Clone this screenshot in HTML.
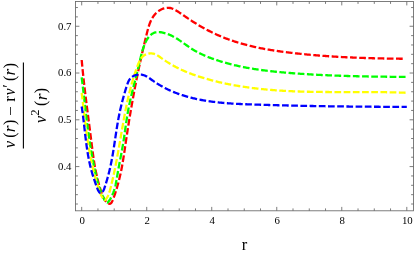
<!DOCTYPE html>
<html><head><meta charset="utf-8"><title>plot</title>
<style>html,body{margin:0;padding:0;background:#fff}body{width:415px;height:254px;overflow:hidden;font-family:"Liberation Serif",serif}svg{display:block;will-change:transform}.sf,.sf text{font-family:"Liberation Serif",serif}</style>
</head><body><svg width="415" height="254" viewBox="0 0 415 254"><rect x="75.5" y="1.5" width="338.0" height="209.3" fill="none" stroke="#666" stroke-width="0.85"/>
<path d="M81.70 210.8 V206.90 M81.70 1.5 V5.40 M97.95 210.8 V208.40 M97.95 1.5 V3.90 M114.21 210.8 V208.40 M114.21 1.5 V3.90 M130.47 210.8 V208.40 M130.47 1.5 V3.90 M146.72 210.8 V206.90 M146.72 1.5 V5.40 M162.97 210.8 V208.40 M162.97 1.5 V3.90 M179.23 210.8 V208.40 M179.23 1.5 V3.90 M195.49 210.8 V208.40 M195.49 1.5 V3.90 M211.74 210.8 V206.90 M211.74 1.5 V5.40 M228.00 210.8 V208.40 M228.00 1.5 V3.90 M244.25 210.8 V208.40 M244.25 1.5 V3.90 M260.50 210.8 V208.40 M260.50 1.5 V3.90 M276.76 210.8 V206.90 M276.76 1.5 V5.40 M293.01 210.8 V208.40 M293.01 1.5 V3.90 M309.27 210.8 V208.40 M309.27 1.5 V3.90 M325.52 210.8 V208.40 M325.52 1.5 V3.90 M341.78 210.8 V206.90 M341.78 1.5 V5.40 M358.03 210.8 V208.40 M358.03 1.5 V3.90 M374.29 210.8 V208.40 M374.29 1.5 V3.90 M390.54 210.8 V208.40 M390.54 1.5 V3.90 M406.80 210.8 V206.90 M406.80 1.5 V5.40 M75.5 204.01 H77.90 M413.5 204.01 H411.10 M75.5 194.66 H77.90 M413.5 194.66 H411.10 M75.5 185.30 H77.90 M413.5 185.30 H411.10 M75.5 175.95 H77.90 M413.5 175.95 H411.10 M75.5 166.59 H79.40 M413.5 166.59 H409.60 M75.5 157.23 H77.90 M413.5 157.23 H411.10 M75.5 147.88 H77.90 M413.5 147.88 H411.10 M75.5 138.52 H77.90 M413.5 138.52 H411.10 M75.5 129.17 H77.90 M413.5 129.17 H411.10 M75.5 119.81 H79.40 M413.5 119.81 H409.60 M75.5 110.45 H77.90 M413.5 110.45 H411.10 M75.5 101.10 H77.90 M413.5 101.10 H411.10 M75.5 91.74 H77.90 M413.5 91.74 H411.10 M75.5 82.39 H77.90 M413.5 82.39 H411.10 M75.5 73.03 H79.40 M413.5 73.03 H409.60 M75.5 63.67 H77.90 M413.5 63.67 H411.10 M75.5 54.32 H77.90 M413.5 54.32 H411.10 M75.5 44.96 H77.90 M413.5 44.96 H411.10 M75.5 35.61 H77.90 M413.5 35.61 H411.10 M75.5 26.25 H79.40 M413.5 26.25 H409.60 M75.5 16.89 H77.90 M413.5 16.89 H411.10 M75.5 7.54 H77.90 M413.5 7.54 H411.10" stroke="#666" stroke-width="0.85" fill="none"/>
<path d="M81.70 60.00 L81.79 61.02 L81.88 62.03 L81.98 63.04 L82.07 64.06 L82.17 65.07 L82.26 66.09 L82.36 67.10 L82.46 68.11 L82.56 69.13 L82.66 70.14 L82.76 71.15 L82.87 72.16 L82.97 73.17 L83.08 74.19 L83.18 75.20 L83.29 76.21 L83.40 77.22 L83.51 78.23 L83.62 79.24 L83.73 80.25 L83.84 81.26 L83.95 82.27 L84.07 83.28 L84.18 84.29 L84.29 85.30 L84.41 86.31 L84.53 87.31 L84.64 88.32 L84.76 89.33 L84.88 90.34 L85.00 91.35 L85.12 92.35 L85.24 93.36 L85.36 94.37 L85.48 95.37 L85.60 96.38 L85.73 97.39 L85.85 98.39 L85.97 99.40 L86.10 100.41 L86.22 101.41 L86.35 102.42 L86.47 103.42 L86.60 104.43 L86.73 105.43 L86.85 106.44 L86.98 107.44 L87.11 108.45 L87.23 109.45 L87.36 110.46 L87.49 111.46 L87.62 112.47 L87.75 113.47 L87.88 114.47 L88.01 115.48 L88.13 116.48 L88.26 117.48 L88.39 118.49 L88.52 119.49 L88.65 120.49 L88.78 121.50 L88.91 122.50 L89.04 123.50 L89.17 124.51 L89.30 125.51 L89.43 126.51 L89.56 127.51 L89.69 128.52 L89.82 129.52 L89.95 130.52 L90.08 131.52 L90.21 132.53 L90.34 133.53 L90.47 134.53 L90.60 135.53 L90.73 136.53 L90.85 137.54 L90.98 138.54 L91.11 139.54 L91.24 140.54 L91.36 141.54 L91.49 142.55 L91.62 143.55 L91.74 144.55 L91.87 145.55 L92.00 146.55 L92.13 147.55 L92.25 148.56 L92.38 149.56 L92.51 150.56 L92.64 151.56 L92.78 152.56 L92.91 153.56 L93.05 154.56 L93.19 155.57 L93.33 156.57 L93.47 157.57 L93.62 158.57 L93.77 159.57 L93.92 160.57 L94.08 161.58 L94.23 162.58 L94.40 163.58 L94.56 164.58 L94.73 165.58 L94.91 166.59 L95.09 167.59 L95.27 168.59 L95.46 169.59 L95.65 170.59 L95.85 171.60 L96.05 172.60 L96.26 173.60 L96.48 174.60 L96.70 175.61 L96.92 176.61 L97.16 177.61 L97.40 178.62 L97.64 179.62 L97.90 180.62 L98.16 181.63 L98.43 182.63 L98.70 183.64 L98.98 184.64 L99.27 185.65 L99.57 186.66 L99.88 187.67 L100.19 188.68 L100.52 189.69 L100.85 190.70 L101.19 191.72 L101.54 192.74 L101.90 193.76 L102.28 194.78 L102.68 195.78 L103.10 196.77 L103.56 197.73 L104.05 198.66 L104.58 199.56 L105.15 200.41 L105.78 201.22 L106.46 201.96 L107.20 202.62 L108.01 203.18 L108.86 203.59 L109.67 203.74 L110.39 203.57 L111.01 203.14 L111.55 202.49 L112.03 201.68 L112.47 200.77 L112.88 199.78 L113.27 198.78 L113.66 197.75 L114.04 196.71 L114.41 195.67 L114.77 194.62 L115.12 193.56 L115.46 192.51 L115.80 191.46 L116.13 190.41 L116.44 189.36 L116.76 188.33 L117.06 187.30 L117.35 186.28 L117.64 185.27 L117.92 184.26 L118.20 183.26 L118.47 182.26 L118.73 181.27 L118.98 180.28 L119.23 179.29 L119.47 178.31 L119.71 177.32 L119.94 176.34 L120.17 175.36 L120.39 174.38 L120.60 173.39 L120.81 172.41 L121.02 171.43 L121.22 170.44 L121.42 169.45 L121.61 168.47 L121.80 167.48 L121.98 166.49 L122.16 165.50 L122.34 164.51 L122.52 163.52 L122.69 162.53 L122.86 161.54 L123.02 160.55 L123.18 159.55 L123.34 158.56 L123.50 157.56 L123.66 156.57 L123.81 155.57 L123.97 154.57 L124.12 153.58 L124.27 152.58 L124.42 151.58 L124.56 150.58 L124.71 149.58 L124.86 148.58 L125.00 147.58 L125.15 146.58 L125.29 145.57 L125.44 144.57 L125.59 143.57 L125.73 142.56 L125.88 141.56 L126.03 140.56 L126.18 139.55 L126.33 138.55 L126.48 137.54 L126.63 136.53 L126.78 135.53 L126.93 134.52 L127.09 133.52 L127.24 132.51 L127.40 131.50 L127.55 130.50 L127.71 129.49 L127.87 128.48 L128.02 127.47 L128.18 126.47 L128.34 125.46 L128.50 124.45 L128.67 123.44 L128.83 122.44 L128.99 121.43 L129.15 120.42 L129.32 119.41 L129.48 118.41 L129.65 117.40 L129.82 116.39 L129.98 115.39 L130.15 114.38 L130.32 113.37 L130.49 112.37 L130.66 111.36 L130.83 110.36 L131.01 109.35 L131.18 108.35 L131.35 107.34 L131.53 106.34 L131.70 105.34 L131.88 104.33 L132.06 103.33 L132.23 102.33 L132.41 101.33 L132.59 100.33 L132.77 99.33 L132.95 98.33 L133.13 97.33 L133.32 96.33 L133.50 95.34 L133.68 94.34 L133.87 93.34 L134.06 92.35 L134.24 91.35 L134.43 90.36 L134.62 89.37 L134.81 88.37 L135.00 87.38 L135.19 86.39 L135.38 85.40 L135.57 84.41 L135.76 83.42 L135.96 82.43 L136.15 81.44 L136.35 80.45 L136.55 79.46 L136.74 78.48 L136.94 77.49 L137.14 76.50 L137.34 75.51 L137.55 74.53 L137.75 73.54 L137.95 72.55 L138.16 71.56 L138.36 70.58 L138.57 69.59 L138.78 68.60 L138.98 67.62 L139.19 66.63 L139.41 65.64 L139.62 64.66 L139.83 63.67 L140.04 62.68 L140.26 61.69 L140.48 60.71 L140.69 59.72 L140.91 58.73 L141.13 57.74 L141.35 56.75 L141.57 55.76 L141.80 54.77 L142.02 53.78 L142.25 52.79 L142.47 51.80 L142.70 50.81 L142.93 49.81 L143.16 48.82 L143.39 47.82 L143.62 46.83 L143.86 45.83 L144.09 44.84 L144.33 43.84 L144.57 42.84 L144.80 41.84 L145.04 40.85 L145.29 39.84 L145.53 38.84 L145.77 37.84 L146.02 36.84 L146.27 35.83 L146.51 34.83 L146.76 33.82 L147.01 32.81 L147.27 31.81 L147.53 30.80 L147.79 29.80 L148.06 28.80 L148.34 27.80 L148.64 26.82 L148.94 25.84 L149.26 24.87 L149.60 23.91 L149.95 22.96 L150.33 22.03 L150.72 21.11 L151.14 20.20 L151.58 19.32 L152.05 18.45 L152.54 17.60 L153.07 16.77 L153.62 15.97 L154.21 15.19 L154.83 14.44 L155.49 13.71 L156.19 13.01 L156.92 12.34 L157.70 11.70 L158.52 11.09 L159.38 10.52 L160.28 9.98 L161.21 9.49 L162.17 9.05 L163.15 8.67 L164.14 8.34 L165.14 8.09 L166.14 7.91 L167.14 7.80 L168.13 7.78 L169.11 7.85 L170.07 7.99 L171.02 8.21 L171.95 8.50 L172.88 8.84 L173.79 9.24 L174.70 9.69 L175.59 10.17 L176.48 10.69 L177.36 11.23 L178.23 11.79 L179.09 12.37 L179.95 12.95 L180.80 13.52 L181.65 14.10 L182.50 14.68 L183.34 15.25 L184.17 15.82 L185.01 16.39 L185.84 16.96 L186.68 17.52 L187.51 18.09 L188.35 18.65 L189.18 19.21 L190.02 19.76 L190.86 20.32 L191.71 20.87 L192.56 21.41 L193.41 21.96 L194.27 22.50 L195.13 23.04 L196.00 23.57 L196.87 24.10 L197.75 24.63 L198.62 25.15 L199.51 25.67 L200.39 26.19 L201.29 26.70 L202.18 27.21 L203.08 27.71 L203.98 28.21 L204.88 28.71 L205.79 29.20 L206.70 29.68 L207.61 30.16 L208.53 30.64 L209.44 31.11 L210.36 31.57 L211.29 32.03 L212.21 32.49 L213.14 32.93 L214.07 33.38 L215.00 33.81 L215.93 34.24 L216.86 34.67 L217.80 35.09 L218.74 35.50 L219.68 35.90 L220.62 36.30 L221.56 36.70 L222.50 37.08 L223.44 37.46 L224.39 37.84 L225.34 38.21 L226.28 38.57 L227.23 38.93 L228.18 39.28 L229.13 39.62 L230.09 39.96 L231.04 40.30 L232.00 40.63 L232.95 40.95 L233.91 41.27 L234.87 41.58 L235.83 41.89 L236.79 42.19 L237.75 42.49 L238.72 42.78 L239.68 43.07 L240.65 43.35 L241.61 43.63 L242.58 43.90 L243.55 44.17 L244.52 44.43 L245.49 44.69 L246.46 44.95 L247.44 45.20 L248.41 45.44 L249.39 45.68 L250.36 45.92 L251.34 46.15 L252.32 46.38 L253.30 46.61 L254.28 46.83 L255.26 47.04 L256.24 47.26 L257.22 47.47 L258.21 47.67 L259.19 47.87 L260.18 48.07 L261.16 48.27 L262.15 48.46 L263.14 48.65 L264.13 48.83 L265.12 49.01 L266.11 49.19 L267.10 49.37 L268.09 49.54 L269.09 49.71 L270.08 49.87 L271.07 50.04 L272.07 50.20 L273.07 50.35 L274.06 50.51 L275.06 50.66 L276.06 50.81 L277.06 50.96 L278.06 51.10 L279.06 51.25 L280.06 51.39 L281.06 51.53 L282.07 51.66 L283.07 51.80 L284.07 51.93 L285.08 52.06 L286.08 52.19 L287.09 52.31 L288.09 52.44 L289.10 52.56 L290.11 52.68 L291.12 52.80 L292.12 52.92 L293.13 53.04 L294.14 53.15 L295.15 53.27 L296.16 53.38 L297.17 53.49 L298.19 53.60 L299.20 53.71 L300.21 53.81 L301.22 53.92 L302.24 54.02 L303.25 54.12 L304.26 54.22 L305.28 54.32 L306.29 54.42 L307.31 54.52 L308.32 54.61 L309.34 54.71 L310.36 54.80 L311.37 54.89 L312.39 54.98 L313.41 55.07 L314.42 55.15 L315.44 55.24 L316.46 55.32 L317.48 55.40 L318.50 55.49 L319.51 55.57 L320.53 55.65 L321.55 55.72 L322.57 55.80 L323.59 55.87 L324.61 55.95 L325.63 56.02 L326.65 56.09 L327.67 56.16 L328.69 56.23 L329.71 56.30 L330.73 56.37 L331.75 56.43 L332.78 56.50 L333.80 56.56 L334.82 56.62 L335.84 56.68 L336.86 56.74 L337.88 56.80 L338.90 56.86 L339.92 56.92 L340.94 56.97 L341.97 57.03 L342.99 57.08 L344.01 57.13 L345.03 57.19 L346.05 57.24 L347.07 57.29 L348.09 57.34 L349.11 57.38 L350.13 57.43 L351.15 57.47 L352.17 57.52 L353.20 57.56 L354.22 57.61 L355.24 57.65 L356.26 57.69 L357.28 57.73 L358.29 57.77 L359.31 57.81 L360.33 57.84 L361.35 57.88 L362.37 57.92 L363.39 57.95 L364.41 57.99 L365.43 58.02 L366.44 58.05 L367.46 58.08 L368.48 58.11 L369.49 58.14 L370.51 58.17 L371.53 58.20 L372.54 58.23 L373.56 58.26 L374.57 58.28 L375.59 58.31 L376.60 58.33 L377.62 58.36 L378.63 58.38 L379.64 58.40 L380.66 58.43 L381.67 58.45 L382.68 58.47 L383.69 58.49 L384.70 58.51 L385.71 58.53 L386.72 58.54 L387.73 58.56 L388.74 58.58 L389.75 58.60 L390.76 58.61 L391.76 58.63 L392.77 58.64 L393.78 58.66 L394.78 58.67 L395.79 58.68 L396.79 58.70 L397.80 58.71 L398.80 58.72 L399.80 58.73 L400.80 58.74 L401.80 58.75 L402.80 58.76 L403.80 58.77" stroke="#ff0000" stroke-width="2.3" fill="none" stroke-dasharray="6.7 2.5"/>
<path d="M81.70 77.40 L81.81 78.33 L81.93 79.26 L82.04 80.19 L82.15 81.12 L82.27 82.05 L82.38 82.99 L82.49 83.92 L82.60 84.86 L82.71 85.79 L82.82 86.73 L82.93 87.66 L83.04 88.60 L83.15 89.54 L83.26 90.48 L83.37 91.42 L83.48 92.36 L83.58 93.30 L83.69 94.24 L83.80 95.18 L83.91 96.12 L84.02 97.06 L84.13 98.01 L84.24 98.95 L84.34 99.89 L84.45 100.84 L84.56 101.78 L84.67 102.73 L84.78 103.67 L84.89 104.62 L85.00 105.56 L85.11 106.51 L85.22 107.46 L85.33 108.40 L85.44 109.35 L85.55 110.30 L85.67 111.24 L85.78 112.19 L85.89 113.14 L86.01 114.09 L86.12 115.03 L86.23 115.98 L86.35 116.93 L86.47 117.88 L86.58 118.82 L86.70 119.77 L86.82 120.72 L86.94 121.66 L87.05 122.61 L87.18 123.56 L87.30 124.51 L87.42 125.45 L87.54 126.40 L87.66 127.35 L87.79 128.29 L87.92 129.24 L88.04 130.18 L88.17 131.13 L88.30 132.08 L88.43 133.02 L88.56 133.96 L88.69 134.91 L88.82 135.85 L88.96 136.80 L89.10 137.74 L89.23 138.68 L89.37 139.62 L89.51 140.56 L89.65 141.51 L89.79 142.45 L89.94 143.39 L90.08 144.33 L90.23 145.26 L90.38 146.20 L90.53 147.14 L90.68 148.08 L90.83 149.01 L90.99 149.95 L91.14 150.88 L91.30 151.82 L91.46 152.75 L91.62 153.68 L91.78 154.61 L91.95 155.54 L92.12 156.47 L92.28 157.40 L92.45 158.33 L92.63 159.26 L92.80 160.19 L92.98 161.11 L93.16 162.04 L93.34 162.96 L93.52 163.88 L93.70 164.80 L93.89 165.72 L94.08 166.64 L94.27 167.56 L94.46 168.48 L94.66 169.39 L94.85 170.31 L95.05 171.22 L95.25 172.14 L95.46 173.05 L95.67 173.96 L95.87 174.87 L96.09 175.78 L96.30 176.68 L96.52 177.59 L96.74 178.49 L96.96 179.40 L97.19 180.31 L97.43 181.21 L97.68 182.12 L97.93 183.02 L98.19 183.93 L98.46 184.84 L98.74 185.75 L99.03 186.67 L99.33 187.59 L99.65 188.51 L99.98 189.43 L100.32 190.37 L100.68 191.31 L101.05 192.25 L101.44 193.21 L101.85 194.17 L102.27 195.15 L102.72 196.14 L103.18 197.13 L103.67 198.14 L104.17 199.16 L104.70 200.17 L105.25 201.10 L105.83 201.86 L106.42 202.37 L107.04 202.56 L107.67 202.36 L108.29 201.80 L108.89 201.05 L109.46 200.24 L110.00 199.40 L110.51 198.55 L111.00 197.69 L111.46 196.81 L111.89 195.93 L112.30 195.05 L112.68 194.16 L113.05 193.27 L113.39 192.38 L113.71 191.48 L114.02 190.58 L114.30 189.67 L114.57 188.76 L114.83 187.84 L115.07 186.92 L115.30 186.00 L115.51 185.07 L115.72 184.14 L115.91 183.20 L116.10 182.26 L116.28 181.32 L116.45 180.37 L116.62 179.42 L116.79 178.47 L116.95 177.52 L117.11 176.57 L117.27 175.62 L117.43 174.67 L117.59 173.71 L117.76 172.76 L117.92 171.81 L118.09 170.86 L118.26 169.91 L118.43 168.96 L118.61 168.01 L118.78 167.06 L118.96 166.11 L119.14 165.16 L119.32 164.21 L119.49 163.27 L119.67 162.32 L119.85 161.37 L120.03 160.43 L120.21 159.48 L120.39 158.54 L120.57 157.59 L120.75 156.65 L120.93 155.70 L121.11 154.76 L121.29 153.82 L121.46 152.87 L121.64 151.93 L121.81 150.99 L121.98 150.05 L122.15 149.11 L122.32 148.17 L122.49 147.23 L122.66 146.29 L122.82 145.35 L122.98 144.41 L123.14 143.47 L123.29 142.53 L123.44 141.59 L123.59 140.66 L123.74 139.72 L123.88 138.78 L124.02 137.85 L124.16 136.91 L124.30 135.98 L124.43 135.04 L124.57 134.11 L124.70 133.17 L124.83 132.24 L124.96 131.31 L125.09 130.37 L125.22 129.44 L125.35 128.51 L125.48 127.58 L125.61 126.65 L125.74 125.72 L125.87 124.79 L126.00 123.86 L126.14 122.93 L126.27 122.00 L126.41 121.07 L126.55 120.15 L126.69 119.22 L126.83 118.29 L126.97 117.37 L127.12 116.44 L127.27 115.52 L127.42 114.59 L127.58 113.67 L127.74 112.75 L127.90 111.82 L128.07 110.90 L128.24 109.98 L128.41 109.06 L128.59 108.14 L128.77 107.21 L128.96 106.29 L129.15 105.37 L129.34 104.45 L129.53 103.54 L129.73 102.62 L129.93 101.70 L130.13 100.78 L130.34 99.86 L130.55 98.94 L130.76 98.03 L130.97 97.11 L131.18 96.19 L131.40 95.27 L131.62 94.36 L131.84 93.44 L132.06 92.52 L132.28 91.61 L132.51 90.69 L132.73 89.77 L132.96 88.86 L133.19 87.94 L133.42 87.02 L133.65 86.10 L133.88 85.19 L134.11 84.27 L134.34 83.35 L134.58 82.43 L134.81 81.52 L135.04 80.60 L135.28 79.68 L135.51 78.76 L135.74 77.84 L135.98 76.92 L136.21 76.01 L136.44 75.09 L136.67 74.17 L136.90 73.24 L137.13 72.32 L137.36 71.40 L137.59 70.48 L137.82 69.56 L138.05 68.64 L138.27 67.71 L138.50 66.79 L138.72 65.86 L138.94 64.94 L139.16 64.01 L139.37 63.09 L139.59 62.16 L139.80 61.23 L140.01 60.31 L140.23 59.38 L140.44 58.45 L140.66 57.52 L140.88 56.59 L141.10 55.65 L141.34 54.72 L141.58 53.79 L141.82 52.85 L142.08 51.92 L142.35 50.98 L142.63 50.04 L142.92 49.11 L143.22 48.17 L143.55 47.23 L143.88 46.29 L144.24 45.35 L144.61 44.41 L145.01 43.49 L145.42 42.58 L145.85 41.68 L146.30 40.80 L146.78 39.95 L147.27 39.12 L147.80 38.32 L148.34 37.55 L148.91 36.82 L149.51 36.13 L150.13 35.48 L150.78 34.88 L151.46 34.33 L152.17 33.83 L152.90 33.39 L153.67 33.01 L154.47 32.69 L155.30 32.45 L156.16 32.27 L157.05 32.15 L157.96 32.10 L158.90 32.10 L159.84 32.15 L160.80 32.25 L161.76 32.40 L162.72 32.58 L163.68 32.80 L164.63 33.05 L165.57 33.32 L166.50 33.61 L167.41 33.93 L168.31 34.27 L169.20 34.63 L170.08 35.00 L170.94 35.40 L171.80 35.81 L172.64 36.24 L173.48 36.68 L174.31 37.13 L175.12 37.60 L175.94 38.08 L176.74 38.57 L177.54 39.07 L178.33 39.58 L179.12 40.10 L179.91 40.63 L180.69 41.16 L181.47 41.69 L182.24 42.23 L183.02 42.78 L183.79 43.32 L184.56 43.87 L185.33 44.42 L186.11 44.96 L186.88 45.51 L187.66 46.05 L188.44 46.59 L189.22 47.12 L190.01 47.65 L190.80 48.17 L191.59 48.69 L192.40 49.20 L193.20 49.69 L194.02 50.18 L194.84 50.66 L195.67 51.13 L196.50 51.59 L197.33 52.04 L198.18 52.49 L199.02 52.92 L199.88 53.35 L200.73 53.77 L201.60 54.18 L202.46 54.58 L203.33 54.98 L204.20 55.37 L205.08 55.75 L205.96 56.13 L206.85 56.49 L207.73 56.86 L208.62 57.21 L209.51 57.56 L210.41 57.90 L211.31 58.24 L212.21 58.57 L213.11 58.89 L214.01 59.21 L214.91 59.53 L215.82 59.84 L216.73 60.14 L217.64 60.44 L218.54 60.73 L219.45 61.02 L220.36 61.31 L221.27 61.59 L222.18 61.86 L223.10 62.13 L224.01 62.40 L224.92 62.66 L225.84 62.92 L226.75 63.17 L227.67 63.42 L228.58 63.67 L229.50 63.91 L230.42 64.15 L231.33 64.38 L232.25 64.61 L233.17 64.84 L234.09 65.06 L235.01 65.27 L235.93 65.49 L236.85 65.70 L237.77 65.90 L238.70 66.11 L239.62 66.30 L240.54 66.50 L241.47 66.69 L242.39 66.88 L243.32 67.06 L244.24 67.25 L245.17 67.42 L246.09 67.60 L247.02 67.77 L247.95 67.94 L248.88 68.10 L249.81 68.27 L250.73 68.43 L251.66 68.58 L252.59 68.74 L253.53 68.89 L254.46 69.03 L255.39 69.18 L256.32 69.32 L257.25 69.46 L258.19 69.60 L259.12 69.73 L260.05 69.86 L260.99 69.99 L261.92 70.12 L262.86 70.24 L263.79 70.37 L264.73 70.48 L265.67 70.60 L266.60 70.72 L267.54 70.83 L268.48 70.94 L269.42 71.05 L270.35 71.16 L271.29 71.26 L272.23 71.36 L273.17 71.46 L274.11 71.56 L275.05 71.66 L275.99 71.76 L276.93 71.85 L277.88 71.94 L278.82 72.03 L279.76 72.12 L280.70 72.21 L281.64 72.30 L282.59 72.38 L283.53 72.47 L284.47 72.55 L285.42 72.63 L286.36 72.71 L287.31 72.79 L288.25 72.86 L289.20 72.94 L290.14 73.02 L291.09 73.09 L292.03 73.16 L292.98 73.24 L293.93 73.31 L294.87 73.38 L295.82 73.45 L296.77 73.52 L297.71 73.58 L298.66 73.65 L299.61 73.72 L300.56 73.78 L301.51 73.85 L302.45 73.91 L303.40 73.97 L304.35 74.03 L305.30 74.09 L306.25 74.15 L307.20 74.21 L308.15 74.27 L309.10 74.33 L310.05 74.38 L311.00 74.44 L311.95 74.49 L312.90 74.55 L313.85 74.60 L314.80 74.65 L315.75 74.70 L316.70 74.75 L317.65 74.80 L318.60 74.85 L319.55 74.90 L320.51 74.95 L321.46 74.99 L322.41 75.04 L323.36 75.08 L324.31 75.13 L325.26 75.17 L326.22 75.21 L327.17 75.26 L328.12 75.30 L329.07 75.34 L330.02 75.38 L330.97 75.42 L331.93 75.46 L332.88 75.49 L333.83 75.53 L334.78 75.57 L335.74 75.60 L336.69 75.64 L337.64 75.67 L338.59 75.71 L339.54 75.74 L340.50 75.77 L341.45 75.81 L342.40 75.84 L343.35 75.87 L344.30 75.90 L345.26 75.93 L346.21 75.96 L347.16 75.99 L348.11 76.01 L349.06 76.04 L350.02 76.07 L350.97 76.09 L351.92 76.12 L352.87 76.14 L353.82 76.17 L354.77 76.19 L355.73 76.22 L356.68 76.24 L357.63 76.26 L358.58 76.28 L359.53 76.31 L360.48 76.33 L361.43 76.35 L362.38 76.37 L363.33 76.39 L364.28 76.41 L365.23 76.42 L366.18 76.44 L367.13 76.46 L368.08 76.48 L369.03 76.49 L369.98 76.51 L370.93 76.53 L371.88 76.54 L372.83 76.56 L373.77 76.57 L374.72 76.59 L375.67 76.60 L376.62 76.62 L377.56 76.63 L378.51 76.64 L379.46 76.65 L380.41 76.67 L381.35 76.68 L382.30 76.69 L383.25 76.70 L384.19 76.71 L385.14 76.72 L386.08 76.73 L387.03 76.74 L387.97 76.75 L388.92 76.76 L389.86 76.77 L390.80 76.78 L391.75 76.79 L392.69 76.80 L393.63 76.81 L394.58 76.82 L395.52 76.82 L396.46 76.83 L397.40 76.84 L398.34 76.84 L399.29 76.85 L400.23 76.86 L401.17 76.86 L402.11 76.87 L403.05 76.88 L403.98 76.88 L404.92 76.89 L405.86 76.89 L406.80 76.90" stroke="#00ff00" stroke-width="2.3" fill="none" stroke-dasharray="6.7 2.5"/>
<path d="M81.70 92.80 L81.81 93.69 L81.92 94.57 L82.03 95.46 L82.14 96.34 L82.24 97.23 L82.35 98.11 L82.46 99.00 L82.56 99.88 L82.67 100.77 L82.77 101.65 L82.87 102.53 L82.98 103.42 L83.08 104.30 L83.18 105.18 L83.29 106.06 L83.39 106.94 L83.49 107.83 L83.60 108.71 L83.70 109.59 L83.80 110.47 L83.90 111.35 L84.00 112.23 L84.11 113.11 L84.21 113.99 L84.31 114.87 L84.42 115.75 L84.52 116.63 L84.62 117.50 L84.73 118.38 L84.83 119.26 L84.94 120.14 L85.05 121.01 L85.15 121.89 L85.26 122.77 L85.37 123.64 L85.48 124.52 L85.59 125.40 L85.70 126.27 L85.81 127.15 L85.92 128.02 L86.03 128.90 L86.15 129.77 L86.26 130.65 L86.38 131.52 L86.49 132.40 L86.61 133.27 L86.73 134.14 L86.85 135.02 L86.98 135.89 L87.10 136.76 L87.22 137.64 L87.35 138.51 L87.48 139.38 L87.61 140.25 L87.74 141.12 L87.87 142.00 L88.01 142.87 L88.14 143.74 L88.28 144.61 L88.42 145.48 L88.56 146.35 L88.71 147.22 L88.85 148.09 L89.00 148.96 L89.15 149.83 L89.30 150.70 L89.46 151.57 L89.61 152.44 L89.77 153.31 L89.93 154.18 L90.10 155.05 L90.26 155.92 L90.43 156.78 L90.60 157.65 L90.77 158.52 L90.95 159.39 L91.13 160.26 L91.31 161.12 L91.49 161.99 L91.68 162.86 L91.86 163.73 L92.06 164.59 L92.25 165.46 L92.45 166.33 L92.65 167.19 L92.85 168.06 L93.06 168.93 L93.27 169.79 L93.48 170.66 L93.70 171.53 L93.92 172.39 L94.14 173.26 L94.37 174.13 L94.60 175.00 L94.83 175.86 L95.07 176.73 L95.30 177.60 L95.55 178.47 L95.80 179.34 L96.05 180.21 L96.30 181.09 L96.56 181.96 L96.82 182.83 L97.09 183.71 L97.36 184.59 L97.63 185.47 L97.91 186.35 L98.19 187.24 L98.47 188.13 L98.76 189.02 L99.06 189.91 L99.36 190.80 L99.68 191.69 L100.01 192.57 L100.35 193.44 L100.72 194.30 L101.10 195.14 L101.51 195.96 L101.95 196.76 L102.41 197.53 L102.91 198.26 L103.44 198.95 L104.00 199.58 L104.60 199.97 L105.19 199.89 L105.78 199.37 L106.33 198.65 L106.85 197.87 L107.32 197.07 L107.75 196.25 L108.15 195.40 L108.51 194.55 L108.85 193.68 L109.16 192.80 L109.45 191.92 L109.73 191.03 L109.98 190.14 L110.23 189.24 L110.46 188.34 L110.69 187.44 L110.91 186.55 L111.13 185.65 L111.35 184.76 L111.57 183.87 L111.78 182.98 L111.99 182.09 L112.20 181.20 L112.41 180.32 L112.61 179.43 L112.82 178.55 L113.02 177.67 L113.21 176.79 L113.41 175.91 L113.60 175.03 L113.80 174.15 L113.99 173.27 L114.18 172.39 L114.36 171.51 L114.55 170.64 L114.73 169.76 L114.91 168.89 L115.09 168.01 L115.27 167.14 L115.44 166.26 L115.62 165.39 L115.79 164.51 L115.96 163.64 L116.13 162.77 L116.30 161.89 L116.47 161.02 L116.64 160.15 L116.80 159.27 L116.97 158.40 L117.13 157.53 L117.29 156.65 L117.45 155.78 L117.61 154.91 L117.77 154.04 L117.93 153.17 L118.08 152.29 L118.24 151.42 L118.40 150.55 L118.55 149.68 L118.70 148.81 L118.86 147.94 L119.01 147.06 L119.16 146.19 L119.31 145.32 L119.46 144.45 L119.61 143.58 L119.76 142.71 L119.91 141.84 L120.06 140.97 L120.21 140.10 L120.36 139.23 L120.51 138.36 L120.66 137.49 L120.80 136.62 L120.95 135.75 L121.10 134.88 L121.25 134.01 L121.40 133.14 L121.55 132.28 L121.70 131.41 L121.85 130.54 L122.00 129.67 L122.15 128.80 L122.30 127.93 L122.45 127.07 L122.60 126.20 L122.75 125.33 L122.90 124.46 L123.06 123.60 L123.21 122.73 L123.37 121.86 L123.52 121.00 L123.68 120.13 L123.84 119.26 L123.99 118.40 L124.15 117.53 L124.31 116.67 L124.48 115.80 L124.64 114.93 L124.80 114.07 L124.97 113.20 L125.14 112.34 L125.30 111.47 L125.47 110.61 L125.64 109.75 L125.82 108.88 L125.99 108.02 L126.17 107.16 L126.34 106.29 L126.52 105.43 L126.71 104.57 L126.89 103.70 L127.07 102.84 L127.26 101.98 L127.45 101.12 L127.64 100.25 L127.83 99.39 L128.03 98.53 L128.22 97.67 L128.42 96.81 L128.62 95.95 L128.83 95.09 L129.03 94.23 L129.24 93.37 L129.45 92.51 L129.67 91.65 L129.88 90.79 L130.10 89.93 L130.32 89.07 L130.55 88.21 L130.78 87.35 L131.01 86.50 L131.24 85.64 L131.47 84.78 L131.71 83.92 L131.96 83.07 L132.20 82.21 L132.45 81.35 L132.70 80.50 L132.95 79.64 L133.21 78.79 L133.47 77.93 L133.74 77.07 L134.00 76.22 L134.28 75.36 L134.55 74.51 L134.83 73.66 L135.11 72.80 L135.40 71.95 L135.69 71.10 L135.98 70.24 L136.28 69.39 L136.58 68.54 L136.88 67.69 L137.19 66.83 L137.50 65.98 L137.82 65.13 L138.14 64.28 L138.47 63.44 L138.82 62.60 L139.18 61.78 L139.56 60.97 L139.97 60.18 L140.41 59.42 L140.88 58.68 L141.38 57.98 L141.93 57.31 L142.53 56.68 L143.18 56.09 L143.87 55.55 L144.63 55.06 L145.44 54.62 L146.30 54.25 L147.20 53.93 L148.11 53.68 L149.03 53.50 L149.95 53.39 L150.84 53.36 L151.72 53.40 L152.57 53.52 L153.40 53.70 L154.21 53.94 L155.01 54.23 L155.79 54.57 L156.56 54.95 L157.32 55.37 L158.07 55.83 L158.81 56.30 L159.54 56.80 L160.28 57.31 L161.01 57.84 L161.74 58.36 L162.47 58.88 L163.21 59.40 L163.95 59.91 L164.69 60.41 L165.44 60.91 L166.19 61.40 L166.94 61.88 L167.69 62.36 L168.45 62.83 L169.21 63.29 L169.98 63.75 L170.75 64.20 L171.52 64.65 L172.29 65.09 L173.07 65.52 L173.85 65.95 L174.63 66.37 L175.41 66.79 L176.20 67.20 L176.99 67.61 L177.78 68.00 L178.58 68.40 L179.37 68.79 L180.17 69.17 L180.98 69.55 L181.78 69.92 L182.59 70.29 L183.40 70.65 L184.21 71.01 L185.02 71.36 L185.84 71.71 L186.65 72.05 L187.47 72.39 L188.29 72.72 L189.12 73.05 L189.94 73.37 L190.77 73.69 L191.60 74.00 L192.43 74.31 L193.26 74.62 L194.09 74.92 L194.92 75.21 L195.76 75.51 L196.60 75.80 L197.44 76.08 L198.28 76.36 L199.12 76.64 L199.96 76.91 L200.81 77.18 L201.65 77.44 L202.50 77.71 L203.35 77.96 L204.20 78.22 L205.05 78.47 L205.90 78.72 L206.75 78.96 L207.60 79.20 L208.46 79.44 L209.31 79.67 L210.17 79.90 L211.02 80.13 L211.88 80.36 L212.73 80.58 L213.59 80.80 L214.45 81.02 L215.31 81.23 L216.17 81.44 L217.03 81.65 L217.89 81.85 L218.75 82.06 L219.61 82.26 L220.47 82.46 L221.33 82.65 L222.19 82.84 L223.05 83.03 L223.92 83.22 L224.78 83.40 L225.65 83.59 L226.51 83.76 L227.38 83.94 L228.24 84.12 L229.11 84.29 L229.97 84.46 L230.84 84.62 L231.71 84.79 L232.57 84.95 L233.44 85.11 L234.31 85.26 L235.18 85.42 L236.05 85.57 L236.92 85.72 L237.79 85.87 L238.66 86.01 L239.53 86.16 L240.40 86.30 L241.27 86.44 L242.15 86.57 L243.02 86.71 L243.89 86.84 L244.76 86.97 L245.64 87.10 L246.51 87.22 L247.39 87.34 L248.26 87.47 L249.13 87.59 L250.01 87.70 L250.89 87.82 L251.76 87.93 L252.64 88.04 L253.51 88.15 L254.39 88.26 L255.27 88.36 L256.15 88.46 L257.02 88.57 L257.90 88.66 L258.78 88.76 L259.66 88.86 L260.54 88.95 L261.42 89.04 L262.30 89.13 L263.18 89.22 L264.06 89.31 L264.94 89.39 L265.82 89.47 L266.70 89.56 L267.58 89.64 L268.47 89.71 L269.35 89.79 L270.23 89.86 L271.11 89.94 L272.00 90.01 L272.88 90.08 L273.76 90.14 L274.65 90.21 L275.53 90.28 L276.41 90.34 L277.30 90.40 L278.18 90.46 L279.07 90.52 L279.95 90.58 L280.84 90.63 L281.72 90.69 L282.61 90.74 L283.49 90.79 L284.38 90.84 L285.26 90.89 L286.15 90.94 L287.04 90.99 L287.92 91.03 L288.81 91.08 L289.70 91.12 L290.59 91.16 L291.47 91.20 L292.36 91.24 L293.25 91.28 L294.14 91.31 L295.02 91.35 L295.91 91.38 L296.80 91.42 L297.69 91.45 L298.58 91.48 L299.47 91.51 L300.35 91.54 L301.24 91.57 L302.13 91.59 L303.02 91.62 L303.91 91.64 L304.80 91.67 L305.69 91.69 L306.58 91.71 L307.47 91.73 L308.36 91.75 L309.25 91.77 L310.14 91.79 L311.03 91.81 L311.92 91.83 L312.81 91.84 L313.70 91.86 L314.59 91.87 L315.48 91.89 L316.37 91.90 L317.26 91.91 L318.15 91.93 L319.04 91.94 L319.93 91.95 L320.82 91.96 L321.71 91.97 L322.61 91.98 L323.50 91.98 L324.39 91.99 L325.28 92.00 L326.17 92.01 L327.06 92.01 L327.95 92.02 L328.84 92.02 L329.73 92.03 L330.62 92.03 L331.51 92.04 L332.40 92.04 L333.30 92.04 L334.19 92.05 L335.08 92.05 L335.97 92.05 L336.86 92.05 L337.75 92.05 L338.64 92.05 L339.53 92.06 L340.42 92.06 L341.31 92.06 L342.20 92.06 L343.09 92.06 L343.98 92.06 L344.87 92.06 L345.76 92.06 L346.65 92.06 L347.54 92.06 L348.43 92.06 L349.32 92.06 L350.21 92.06 L351.10 92.06 L351.99 92.06 L352.88 92.06 L353.77 92.05 L354.66 92.05 L355.55 92.05 L356.44 92.05 L357.33 92.05 L358.22 92.05 L359.11 92.05 L359.99 92.06 L360.88 92.06 L361.77 92.06 L362.66 92.06 L363.55 92.06 L364.43 92.06 L365.32 92.06 L366.21 92.06 L367.10 92.07 L367.98 92.07 L368.87 92.07 L369.76 92.08 L370.65 92.08 L371.53 92.09 L372.42 92.09 L373.30 92.10 L374.19 92.10 L375.08 92.11 L375.96 92.11 L376.85 92.12 L377.73 92.13 L378.62 92.14 L379.50 92.15 L380.39 92.16 L381.27 92.17 L382.15 92.18 L383.04 92.19 L383.92 92.20 L384.81 92.21 L385.69 92.22 L386.57 92.24 L387.45 92.25 L388.34 92.27 L389.22 92.29 L390.10 92.30 L390.98 92.32 L391.86 92.34 L392.74 92.36 L393.62 92.38 L394.51 92.40 L395.39 92.42 L396.27 92.45 L397.14 92.47 L398.02 92.49 L398.90 92.52 L399.78 92.55 L400.66 92.58 L401.54 92.60 L402.42 92.63 L403.29 92.67 L404.17 92.70 L405.05 92.73 L405.92 92.77 L406.80 92.80" stroke="#ffff00" stroke-width="2.3" fill="none" stroke-dasharray="6.7 2.5"/>
<path d="M81.70 106.50 L81.82 107.30 L81.94 108.10 L82.06 108.91 L82.18 109.71 L82.30 110.52 L82.41 111.33 L82.52 112.14 L82.63 112.95 L82.74 113.76 L82.84 114.57 L82.95 115.38 L83.05 116.19 L83.15 117.01 L83.25 117.82 L83.35 118.64 L83.45 119.46 L83.55 120.27 L83.65 121.09 L83.74 121.91 L83.84 122.73 L83.93 123.55 L84.03 124.37 L84.12 125.19 L84.22 126.01 L84.31 126.83 L84.40 127.66 L84.49 128.48 L84.59 129.30 L84.68 130.12 L84.77 130.95 L84.87 131.77 L84.96 132.59 L85.06 133.41 L85.15 134.24 L85.25 135.06 L85.34 135.88 L85.44 136.71 L85.54 137.53 L85.64 138.35 L85.74 139.18 L85.84 140.00 L85.95 140.82 L86.05 141.64 L86.16 142.46 L86.26 143.28 L86.37 144.10 L86.48 144.92 L86.59 145.74 L86.71 146.56 L86.83 147.38 L86.94 148.20 L87.06 149.01 L87.19 149.83 L87.31 150.65 L87.44 151.46 L87.57 152.27 L87.70 153.09 L87.84 153.90 L87.98 154.71 L88.12 155.52 L88.26 156.33 L88.41 157.14 L88.56 157.94 L88.71 158.75 L88.87 159.55 L89.03 160.36 L89.19 161.16 L89.36 161.96 L89.53 162.76 L89.71 163.56 L89.88 164.35 L90.07 165.15 L90.25 165.94 L90.44 166.74 L90.64 167.53 L90.84 168.32 L91.04 169.10 L91.25 169.89 L91.46 170.68 L91.68 171.46 L91.90 172.24 L92.13 173.03 L92.36 173.81 L92.60 174.59 L92.84 175.37 L93.09 176.16 L93.34 176.95 L93.60 177.74 L93.86 178.54 L94.13 179.35 L94.40 180.16 L94.68 180.98 L94.97 181.81 L95.26 182.65 L95.56 183.51 L95.86 184.37 L96.17 185.24 L96.49 186.13 L96.81 187.03 L97.14 187.94 L97.49 188.83 L97.84 189.69 L98.21 190.50 L98.60 191.23 L99.01 191.87 L99.44 192.39 L99.90 192.77 L100.39 192.99 L100.91 193.03 L101.45 192.87 L101.98 192.54 L102.47 192.07 L102.91 191.47 L103.30 190.79 L103.66 190.03 L103.99 189.22 L104.29 188.38 L104.59 187.52 L104.87 186.67 L105.16 185.82 L105.43 184.97 L105.70 184.13 L105.97 183.29 L106.23 182.45 L106.49 181.61 L106.74 180.78 L106.98 179.95 L107.22 179.12 L107.46 178.29 L107.69 177.47 L107.92 176.65 L108.14 175.82 L108.36 175.00 L108.57 174.19 L108.78 173.37 L108.99 172.55 L109.19 171.74 L109.39 170.92 L109.59 170.10 L109.78 169.29 L109.96 168.48 L110.15 167.66 L110.33 166.85 L110.50 166.04 L110.68 165.22 L110.85 164.41 L111.02 163.60 L111.18 162.79 L111.34 161.98 L111.50 161.16 L111.66 160.35 L111.81 159.54 L111.96 158.73 L112.11 157.92 L112.26 157.11 L112.40 156.30 L112.55 155.49 L112.69 154.68 L112.83 153.87 L112.96 153.06 L113.10 152.25 L113.23 151.44 L113.36 150.63 L113.49 149.82 L113.62 149.01 L113.75 148.20 L113.88 147.39 L114.00 146.58 L114.13 145.77 L114.25 144.96 L114.38 144.15 L114.50 143.34 L114.62 142.54 L114.74 141.73 L114.87 140.92 L114.99 140.11 L115.11 139.30 L115.23 138.50 L115.35 137.69 L115.47 136.88 L115.59 136.07 L115.71 135.27 L115.83 134.46 L115.96 133.65 L116.08 132.85 L116.20 132.04 L116.33 131.23 L116.45 130.43 L116.58 129.62 L116.70 128.82 L116.83 128.01 L116.96 127.21 L117.09 126.40 L117.22 125.60 L117.36 124.79 L117.49 123.99 L117.63 123.19 L117.77 122.38 L117.91 121.58 L118.05 120.77 L118.20 119.97 L118.34 119.17 L118.49 118.37 L118.64 117.56 L118.80 116.76 L118.95 115.96 L119.11 115.16 L119.27 114.36 L119.44 113.56 L119.60 112.76 L119.77 111.96 L119.95 111.16 L120.12 110.36 L120.30 109.56 L120.48 108.76 L120.67 107.96 L120.85 107.16 L121.04 106.36 L121.23 105.57 L121.43 104.77 L121.63 103.97 L121.83 103.17 L122.03 102.37 L122.23 101.58 L122.44 100.78 L122.65 99.98 L122.86 99.19 L123.08 98.39 L123.30 97.59 L123.52 96.79 L123.74 96.00 L123.96 95.20 L124.19 94.41 L124.42 93.61 L124.65 92.81 L124.89 92.02 L125.12 91.22 L125.36 90.42 L125.60 89.63 L125.85 88.83 L126.09 88.04 L126.34 87.24 L126.59 86.44 L126.84 85.65 L127.11 84.86 L127.38 84.07 L127.66 83.30 L127.96 82.54 L128.29 81.80 L128.64 81.08 L129.01 80.38 L129.42 79.71 L129.87 79.07 L130.35 78.46 L130.88 77.88 L131.45 77.35 L132.07 76.86 L132.75 76.42 L133.47 76.02 L134.22 75.67 L135.01 75.37 L135.83 75.11 L136.66 74.90 L137.50 74.74 L138.35 74.63 L139.20 74.57 L140.05 74.56 L140.88 74.60 L141.68 74.69 L142.47 74.83 L143.24 75.02 L143.99 75.26 L144.73 75.53 L145.45 75.85 L146.15 76.19 L146.85 76.57 L147.53 76.97 L148.21 77.40 L148.88 77.84 L149.55 78.30 L150.21 78.77 L150.88 79.24 L151.54 79.72 L152.20 80.20 L152.87 80.68 L153.54 81.15 L154.22 81.61 L154.90 82.07 L155.58 82.52 L156.27 82.97 L156.96 83.41 L157.66 83.85 L158.36 84.28 L159.06 84.71 L159.77 85.13 L160.48 85.55 L161.19 85.96 L161.91 86.36 L162.63 86.76 L163.35 87.16 L164.08 87.54 L164.81 87.93 L165.54 88.31 L166.28 88.68 L167.02 89.04 L167.76 89.41 L168.50 89.76 L169.25 90.11 L170.00 90.45 L170.75 90.79 L171.51 91.12 L172.27 91.45 L173.03 91.77 L173.79 92.08 L174.56 92.39 L175.32 92.70 L176.09 93.00 L176.87 93.29 L177.64 93.58 L178.42 93.86 L179.19 94.14 L179.97 94.41 L180.76 94.68 L181.54 94.94 L182.32 95.20 L183.11 95.45 L183.90 95.70 L184.69 95.94 L185.48 96.18 L186.28 96.41 L187.07 96.64 L187.87 96.86 L188.66 97.08 L189.46 97.29 L190.26 97.50 L191.06 97.71 L191.86 97.91 L192.66 98.10 L193.47 98.30 L194.27 98.48 L195.08 98.67 L195.88 98.85 L196.69 99.02 L197.49 99.20 L198.30 99.36 L199.11 99.53 L199.91 99.69 L200.72 99.84 L201.53 100.00 L202.34 100.15 L203.15 100.29 L203.96 100.43 L204.77 100.57 L205.57 100.71 L206.38 100.84 L207.19 100.97 L208.00 101.09 L208.81 101.21 L209.63 101.33 L210.44 101.45 L211.25 101.56 L212.06 101.67 L212.87 101.77 L213.68 101.88 L214.49 101.98 L215.31 102.08 L216.12 102.17 L216.93 102.26 L217.74 102.35 L218.56 102.44 L219.37 102.52 L220.18 102.61 L221.00 102.69 L221.81 102.76 L222.62 102.84 L223.44 102.91 L224.25 102.98 L225.07 103.05 L225.88 103.12 L226.70 103.18 L227.51 103.24 L228.33 103.30 L229.14 103.36 L229.96 103.42 L230.77 103.47 L231.59 103.53 L232.41 103.58 L233.22 103.63 L234.04 103.68 L234.86 103.73 L235.67 103.77 L236.49 103.82 L237.31 103.86 L238.12 103.90 L238.94 103.94 L239.76 103.98 L240.58 104.02 L241.40 104.05 L242.21 104.09 L243.03 104.13 L243.85 104.16 L244.67 104.19 L245.49 104.23 L246.31 104.26 L247.13 104.29 L247.95 104.32 L248.77 104.35 L249.59 104.38 L250.41 104.41 L251.23 104.44 L252.05 104.47 L252.87 104.49 L253.69 104.52 L254.51 104.55 L255.33 104.58 L256.15 104.61 L256.97 104.63 L257.79 104.66 L258.61 104.69 L259.43 104.71 L260.25 104.74 L261.07 104.76 L261.90 104.79 L262.72 104.82 L263.54 104.84 L264.36 104.87 L265.18 104.89 L266.01 104.92 L266.83 104.94 L267.65 104.97 L268.47 104.99 L269.30 105.01 L270.12 105.04 L270.94 105.06 L271.76 105.08 L272.59 105.11 L273.41 105.13 L274.23 105.15 L275.06 105.18 L275.88 105.20 L276.70 105.22 L277.53 105.24 L278.35 105.26 L279.17 105.29 L280.00 105.31 L280.82 105.33 L281.65 105.35 L282.47 105.37 L283.29 105.39 L284.12 105.41 L284.94 105.43 L285.77 105.45 L286.59 105.47 L287.42 105.49 L288.24 105.51 L289.07 105.53 L289.89 105.55 L290.71 105.57 L291.54 105.59 L292.36 105.61 L293.19 105.63 L294.01 105.65 L294.84 105.66 L295.66 105.68 L296.49 105.70 L297.31 105.72 L298.14 105.74 L298.97 105.75 L299.79 105.77 L300.62 105.79 L301.44 105.80 L302.27 105.82 L303.09 105.84 L303.92 105.85 L304.74 105.87 L305.57 105.89 L306.39 105.90 L307.22 105.92 L308.05 105.93 L308.87 105.95 L309.70 105.96 L310.52 105.98 L311.35 105.99 L312.17 106.01 L313.00 106.02 L313.83 106.04 L314.65 106.05 L315.48 106.07 L316.30 106.08 L317.13 106.10 L317.95 106.11 L318.78 106.12 L319.61 106.14 L320.43 106.15 L321.26 106.16 L322.08 106.18 L322.91 106.19 L323.73 106.20 L324.56 106.21 L325.39 106.23 L326.21 106.24 L327.04 106.25 L327.86 106.26 L328.69 106.28 L329.51 106.29 L330.34 106.30 L331.17 106.31 L331.99 106.32 L332.82 106.33 L333.64 106.34 L334.47 106.36 L335.29 106.37 L336.12 106.38 L336.94 106.39 L337.77 106.40 L338.60 106.41 L339.42 106.42 L340.25 106.43 L341.07 106.44 L341.90 106.45 L342.72 106.46 L343.55 106.47 L344.37 106.48 L345.20 106.49 L346.02 106.50 L346.85 106.50 L347.67 106.51 L348.50 106.52 L349.32 106.53 L350.15 106.54 L350.97 106.55 L351.79 106.56 L352.62 106.56 L353.44 106.57 L354.27 106.58 L355.09 106.59 L355.92 106.60 L356.74 106.60 L357.56 106.61 L358.39 106.62 L359.21 106.63 L360.04 106.63 L360.86 106.64 L361.68 106.65 L362.51 106.66 L363.33 106.66 L364.15 106.67 L364.98 106.68 L365.80 106.68 L366.62 106.69 L367.45 106.70 L368.27 106.70 L369.09 106.71 L369.91 106.71 L370.74 106.72 L371.56 106.73 L372.38 106.73 L373.20 106.74 L374.03 106.74 L374.85 106.75 L375.67 106.75 L376.49 106.76 L377.31 106.76 L378.13 106.77 L378.96 106.77 L379.78 106.78 L380.60 106.78 L381.42 106.79 L382.24 106.79 L383.06 106.80 L383.88 106.80 L384.70 106.81 L385.52 106.81 L386.34 106.82 L387.16 106.82 L387.98 106.82 L388.80 106.83 L389.62 106.83 L390.44 106.84 L391.26 106.84 L392.08 106.84 L392.90 106.85 L393.72 106.85 L394.54 106.85 L395.36 106.86 L396.17 106.86 L396.99 106.87 L397.81 106.87 L398.63 106.87 L399.45 106.87 L400.26 106.88 L401.08 106.88 L401.90 106.88 L402.72 106.89 L403.53 106.89 L404.35 106.89 L405.17 106.89 L405.98 106.90 L406.80 106.90" stroke="#0000ff" stroke-width="2.3" fill="none" stroke-dasharray="6.7 2.5"/>
<g class="sf" font-size="10.8" fill="#000"><text x="82.20" y="223.7" text-anchor="middle">0</text><text x="147.22" y="223.7" text-anchor="middle">2</text><text x="212.24" y="223.7" text-anchor="middle">4</text><text x="277.26" y="223.7" text-anchor="middle">6</text><text x="342.28" y="223.7" text-anchor="middle">8</text><text x="407.30" y="223.7" text-anchor="middle">10</text><text x="71.5" y="169.89" text-anchor="end">0.4</text><text x="71.5" y="123.11" text-anchor="end">0.5</text><text x="71.5" y="76.33" text-anchor="end">0.6</text><text x="71.5" y="29.55" text-anchor="end">0.7</text></g>
<text x="244.5" y="249.8" text-anchor="middle" class="sf" font-size="16.5" fill="#000">r</text>
<path d="M23.4 62.5 V148.6" stroke="#000" stroke-width="1.1" fill="none"/><g transform="rotate(-90)" class="sf" fill="#000"><text transform="translate(-148.01 15.20) scale(1.0 1)" font-size="16.0" font-style="italic">v</text><text transform="translate(-137.66 14.70) scale(1.0 1)" font-size="16.0">(</text><text transform="translate(-132.24 15.20) scale(1.08 1)" font-size="16.0" font-style="italic">r</text><text transform="translate(-124.97 14.70) scale(1.0 1)" font-size="16.0">)</text><text transform="translate(-115.85 15.60) scale(1.05 1)" font-size="16.0">−</text><text transform="translate(-101.77 15.20) scale(1.08 1)" font-size="16.0">r</text><text transform="translate(-95.23 15.20) scale(0.95 1)" font-size="16.0" font-style="italic">v</text><text transform="translate(-87.65 13.50) scale(1.0 1)" font-size="16.0">′</text><text transform="translate(-81.01 14.70) scale(1.0 1)" font-size="16.0">(</text><text transform="translate(-75.49 15.20) scale(1.08 1)" font-size="16.0" font-style="italic">r</text><text transform="translate(-68.37 14.70) scale(1.0 1)" font-size="16.0">)</text><text transform="translate(-123.11 46.10) scale(1.0 1)" font-size="16.0" font-style="italic">v</text><text transform="translate(-115.64 39.00) scale(1.1 1)" font-size="11.5">2</text><text transform="translate(-105.96 45.80) scale(1.0 1)" font-size="16.0">(</text><text transform="translate(-100.29 46.50) scale(1.08 1)" font-size="16.0" font-style="italic">r</text><text transform="translate(-93.37 45.80) scale(1.0 1)" font-size="16.0">)</text></g></svg></body></html>
